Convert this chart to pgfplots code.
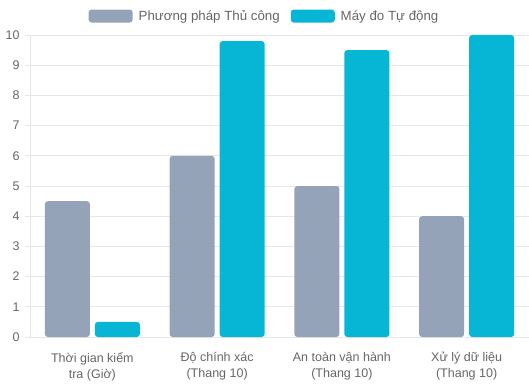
\documentclass[border=0pt]{standalone}
\usepackage{pgfplots}
\pgfplotsset{compat=1.18}
\usepackage{fontspec}
\setmainfont{Liberation Sans}
\definecolor{manual}{HTML}{94A3B8}
\definecolor{auto}{HTML}{06B6D4}
\definecolor{gridc}{HTML}{E5E7EB}
\definecolor{txt}{HTML}{666666}
\begin{document}
\begin{tikzpicture}[x=1bp,y=1bp]
\path[use as bounding box] (0,0) rectangle (529,385);
\begin{axis}[
  at={(30bp,48bp)}, anchor=south west,
  width=499bp, height=302bp, scale only axis,
  ybar, bar width=45bp,
  xmin=-0.5, xmax=3.5, ymin=0, ymax=10,
  xtick={0,1,2,3},
  xticklabels={{Thời gian kiểm\\tra (Giờ)},{Độ chính xác\\(Thang 10)},{An toàn vận hành\\(Thang 10)},{Xử lý dữ liệu\\(Thang 10)}},
  xticklabel style={align=center, font=\fontsize{12.5bp}{15.5bp}\selectfont, text=txt},
  x tick label style={yshift=-7bp},
  ytick={0,1,...,10},
  yticklabel style={font=\fontsize{12.5bp}{14bp}\selectfont, text=txt},
  /pgf/number format/assume math mode=true,
  ymajorgrids, grid style={gridc, line width=0.8bp},
  major tick length=5bp,
  xtick style={draw=none},
  ytick style={gridc, line width=0.8bp},
  tick align=outside,
  tick pos=left,
  axis x line*=bottom, axis y line*=left,
  axis line style={gridc, line width=0.8bp},
  y axis line style={-}, x axis line style={-},
  yticklabel style={xshift=-2bp},
  legend style={at={(0.5,1.0)}, anchor=south, yshift=9bp, xshift=-15bp, draw=none, fill=none,
    legend columns=2, font=\fontsize{13.3bp}{15bp}\selectfont, text=txt,
    /tikz/every odd column/.append style={column sep=4bp},
    /tikz/every even column/.append style={column sep=9bp}},
  legend image code/.code={\fill[#1] (0bp,-6.5bp) rectangle (44bp,6.5bp);},
]
\addplot[fill=manual, draw=none, rounded corners=3bp, bar shift=-25bp] coordinates {(0,4.5) (1,6) (2,5) (3,4)};
\addlegendentry{Phương pháp Thủ công}
\addplot[fill=auto, draw=none, rounded corners=3bp, bar shift=25bp] coordinates {(0,0.5) (1,9.8) (2,9.5) (3,10)};
\addlegendentry{Máy đo Tự động}
\end{axis}
\end{tikzpicture}
\end{document}
